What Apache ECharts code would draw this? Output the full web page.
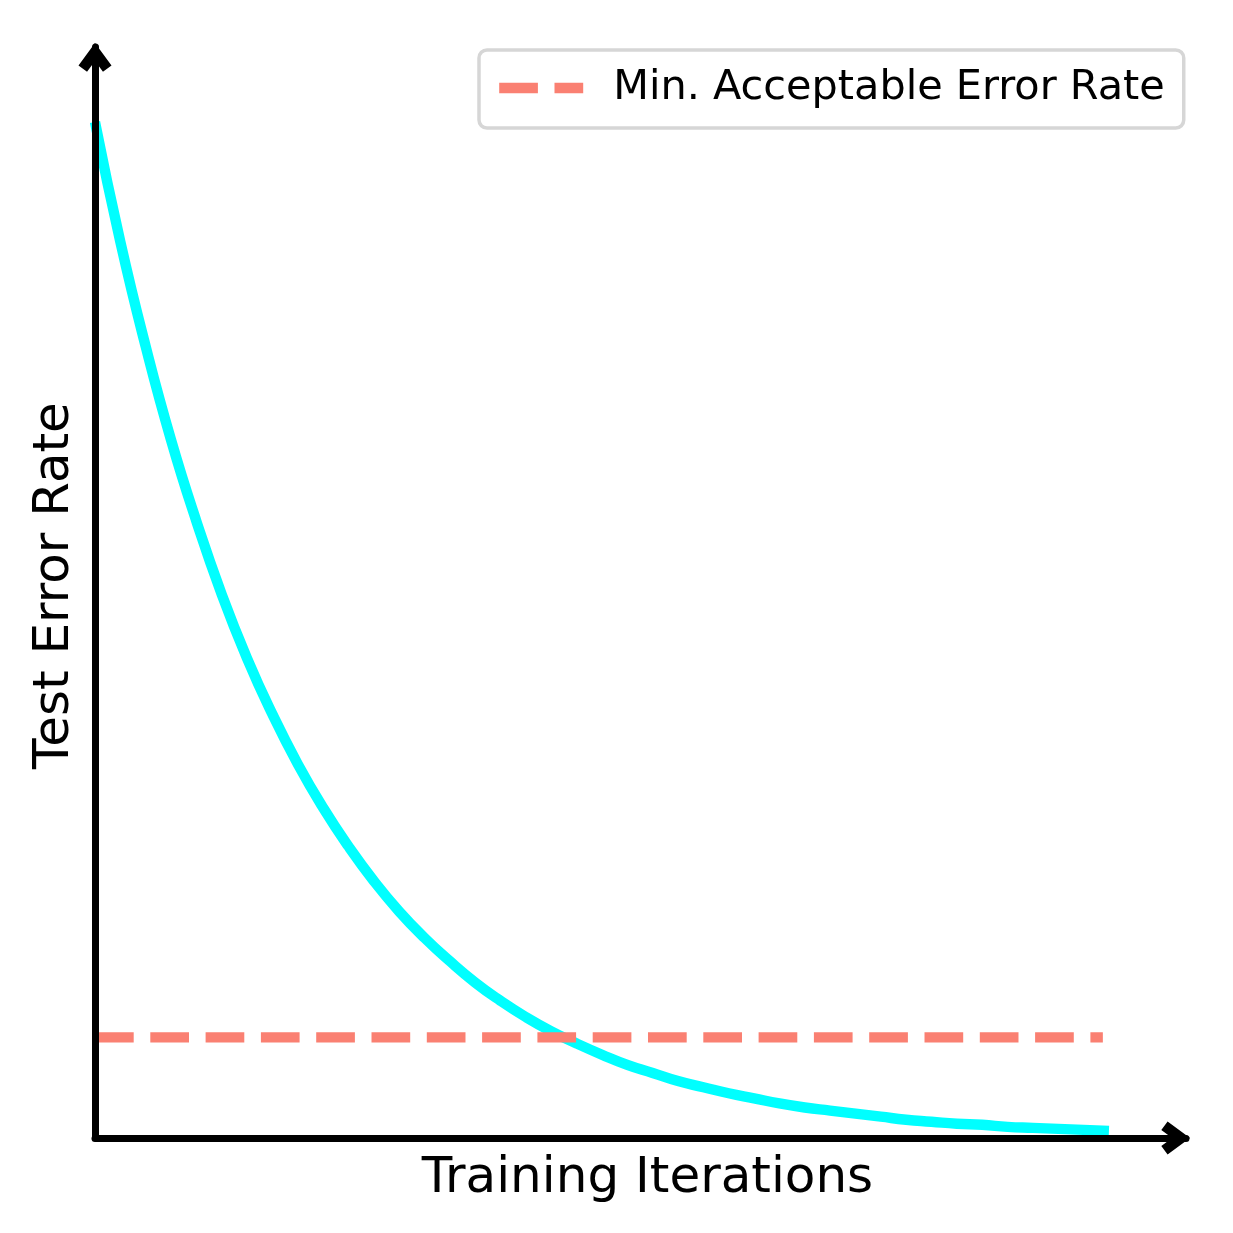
<!DOCTYPE html>
<html>
<head>
<meta charset="utf-8">
<script src="https://cdn.jsdelivr.net/npm/echarts@6/dist/echarts.min.js"></script>
<style>
  html, body { margin: 0; padding: 0; background: #fff; }
  #chart { width: 1233px; height: 1233px; }
</style>
</head>
<body>
<div id="chart"></div>
<script>
// Values
const iterations = [0, 0.25, 0.5, 0.75, 1, 1.25, 1.5, 1.75, 2, 2.25, 2.5, 2.75, 3, 3.25, 3.5, 3.75, 4, 4.25, 4.5, 4.75, 5,
  5.25, 5.5, 5.75, 6, 6.25, 6.5, 6.75, 7, 7.25, 7.5, 7.75, 8, 8.25, 8.5, 8.75, 9, 9.25, 9.5, 9.75, 10];
const errorRate = [1.000, 0.882, 0.779, 0.687, 0.607, 0.535, 0.472, 0.417, 0.368, 0.325, 0.287, 0.253, 0.223, 0.197,
  0.174, 0.153, 0.135, 0.119, 0.105, 0.093, 0.082, 0.072, 0.064, 0.056, 0.050, 0.044, 0.039, 0.034, 0.030, 0.027,
  0.024, 0.021, 0.018, 0.016, 0.014, 0.013, 0.011, 0.010, 0.009, 0.008, 0.007];
const thresholdName = 'Min. Acceptable Error Rate';
const thresholdValue = 0.099;
const thresholdSpan = [0, 9.94];
const xAxisName = 'Training Iterations';
const yAxisName = 'Test Error Rate';

const curveData = iterations.map((x, i) => [x, errorRate[i]]);
const thresholdData = thresholdSpan.map(x => [x, thresholdValue]);

const FONT = 'DejaVu Sans';
const arrowPath = 'path://M14,0 L28,19 L20.75,24.34 L14,15.18 L7.25,24.34 L0,19 Z';

const chart = echarts.init(document.getElementById('chart'), null, { renderer: 'canvas' });
chart.setOption({
  backgroundColor: '#ffffff',
  animation: false,
  grid: { left: 95, right: 47, top: 47, bottom: 95, containLabel: false, outerBoundsMode: 'none' },
  legend: {
    data: [thresholdName],
    left: 479,
    top: 50,
    orient: 'horizontal',
    padding: [11, 19, 13, 15],
    itemWidth: 84,
    itemHeight: 46,
    backgroundColor: '#ffffff',
    borderColor: '#d6d6d6',
    borderWidth: 3.5,
    borderRadius: 8,
    lineStyle: { width: 10.4 },
    itemStyle: { color: 'rgba(0,0,0,0)', borderWidth: 0, opacity: 0 },
    textStyle: { fontFamily: FONT, fontSize: 41.4, color: '#000', lineHeight: 38, padding: [16, 0, 0, 25] },
    selectedMode: false
  },
  xAxis: {
    type: 'value',
    min: 0,
    max: 10.76,
    z: 5,
    name: xAxisName,
    nameLocation: 'middle',
    nameGap: 16,
    nameTextStyle: { fontFamily: FONT, fontSize: 50, color: '#000', lineHeight: 50, padding: [0, 0, 0, 14] },
    axisLine: {
      show: true, onZero: false,
      lineStyle: { color: '#000', width: 7 },
      symbol: ['none', arrowPath],
      symbolSize: [33, 28.7],
      symbolOffset: [0, -10.35]
    },
    axisTick: { show: false },
    axisLabel: { show: false },
    splitLine: { show: false }
  },
  yAxis: {
    type: 'value',
    min: 0,
    max: 1.0738,
    z: 5,
    name: yAxisName,
    nameLocation: 'middle',
    nameGap: 15,
    nameTextStyle: { fontFamily: FONT, fontSize: 50, color: '#000', lineHeight: 50, padding: [0, 0, 0, 14] },
    axisLine: {
      show: true, onZero: false,
      lineStyle: { color: '#000', width: 7 },
      symbol: ['none', arrowPath],
      symbolSize: [33, 28.7],
      symbolOffset: [0, -10.35]
    },
    axisTick: { show: false },
    axisLabel: { show: false },
    splitLine: { show: false }
  },
  series: [
    {
      name: 'Test Error',
      type: 'line',
      data: curveData,
      showSymbol: false,
      symbol: 'none',
      smooth: 0.5,
      lineStyle: { color: '#00ffff', width: 10.4, cap: 'butt' },
      z: 2
    },
    {
      name: thresholdName,
      type: 'line',
      data: thresholdData,
      showSymbol: false,
      symbol: 'none',
      itemStyle: { color: '#fa8072' },
      lineStyle: { color: '#fa8072', width: 10.4, type: [38.7, 16.6], dashOffset: 0, cap: 'butt' },
      z: 3
    }
  ]
});
</script>
</body>
</html>
